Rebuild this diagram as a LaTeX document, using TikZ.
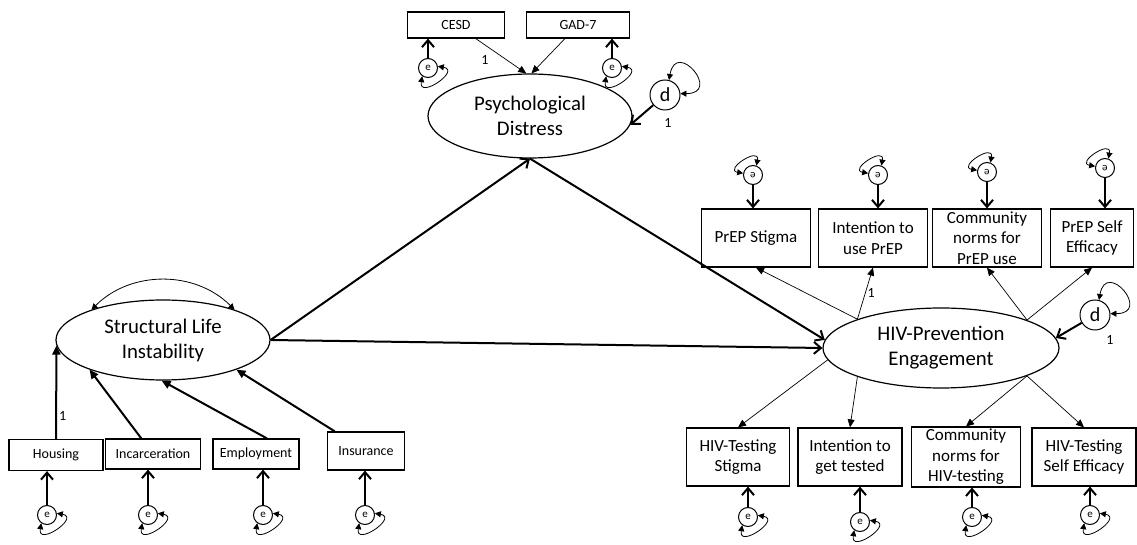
\documentclass[tikz,border=0pt]{standalone}
\usepackage{fontspec}
\setmainfont{Carlito}
\usepackage{graphicx}
\usetikzlibrary{arrows.meta,shapes.geometric}

\tikzset{
  latent/.style={draw,ellipse,line width=0.6pt,align=center,inner sep=0pt,
    font=\fontsize{10.4}{12.5}\selectfont},
  obs/.style={draw,rectangle,line width=0.6pt,align=center,inner sep=1pt,
    font=\fontsize{7}{8.4}\selectfont},
  obsbig/.style={obs,font=\fontsize{8.5}{10.3}\selectfont,minimum height=29pt},
  err/.style={draw,circle,line width=0.5pt,inner sep=0pt,minimum size=9.5pt,
    font=\fontsize{5.5}{6}\selectfont},
  dist/.style={draw,circle,line width=0.5pt,inner sep=0pt,minimum size=15pt,
    font=\fontsize{10}{12}\selectfont},
  lbl/.style={font=\fontsize{7}{8}\selectfont,inner sep=1pt},
  regpath/.style={line width=1pt,-{Straight Barb[length=3.5pt,width=6pt]}},
  errpath/.style={line width=1pt,-{Straight Barb[length=3.5pt,width=6pt]}},
  indpath/.style={line width=1pt,-{Triangle[length=4.5pt,width=4pt]}},
  loadpath/.style={line width=0.35pt,-{Triangle[length=4pt,width=3.5pt]}},
  varpath/.style={line width=0.4pt,{Triangle[length=3pt,width=3pt]}-{Triangle[length=3pt,width=3pt]}},
  lowloop/.style={out=-10,in=-100,looseness=3.3},
  toploop/.style={out=170,in=80,looseness=3.3},
  dloop/.style={out=80,in=0,looseness=6}
}

\begin{document}
\begin{tikzpicture}[x=0.5pt,y=-0.5pt]
  \useasboundingbox (0,0) rectangle (1137,545);

  % Latent variables
  \node[latent,minimum width=102pt,minimum height=42pt] (pd) at (530,116) {Psychological\\Distress};
  \node[latent,minimum width=107pt,minimum height=40pt] (sli) at (163,340) {Structural Life\\Instability};
  \node[latent,minimum width=118pt,minimum height=40pt] (hpe) at (941,348) {HIV-Prevention\\Engagement};

  % Psychological distress indicators
  \node[obs,minimum width=48.5pt,minimum height=13pt] (cesd) at (456,25) {CESD};
  \node[obs,minimum width=51.5pt,minimum height=13pt] (gad) at (578,25) {GAD-7};
  \node[err] (ecesd) at (428,68) {e};
  \node[err] (egad) at (612,68) {e};
  \draw[errpath] (ecesd) -- (ecesd |- cesd.south);
  \draw[errpath] (egad) -- (egad |- gad.south);
  \draw[varpath] (ecesd.10) to[lowloop] (ecesd.235);
  \draw[varpath] (egad.10) to[lowloop] (egad.235);
  \draw[loadpath] (cesd) -- node[lbl,pos=0.3,below left,yshift=-2pt] (lcesd) {1} (pd.95);
  \draw[loadpath] (gad) -- (pd.88);

  % Disturbance of psychological distress
  \node[dist] (dpd) at (665,95) {d};
  \draw[regpath] (dpd) -- (pd.-5);
  \draw[varpath] (dpd.75) to[dloop] (dpd.5);
  \node[lbl] (ldpd) at (668,123) {1};

  % Structural life instability indicators
  \foreach \n/\x/\y/\w/\h/\t/\ex in {
    housing/56/455/47/15.5/Housing/47,
    incarc/153/454/47.5/15/Incarceration/148,
    employ/256/454/43/15/Employment/263,
    insur/366/451/38.5/19/Insurance/365
  } {
    \node[obs,minimum width=\w pt,minimum height=\h pt] (\n) at (\x,\y) {\t};
    \node[err] (e\n) at (\ex,515) {e};
    \draw[errpath] (e\n) -- (e\n |- \n.south);
    \draw[varpath] (e\n.10) to[lowloop] (e\n.235);
  }
  \draw[indpath] (housing) -- node[lbl,pos=0.25,right] (lhousing) {1} (sli.183);
  \draw[indpath] (incarc) -- (sli.202);
  \draw[indpath] (employ.55) -- (sli.268);
  \draw[indpath] (insur) -- (sli.338);
  \draw[varpath] (sli.157) to[bend left=45] (sli.23);

  % Structural paths
  \draw[regpath] (sli.east) -- (pd.south);
  \draw[regpath] (pd.south) -- (hpe.176);
  \draw[regpath] (sli.east) -- (hpe.west);

  % PrEP indicators
  \foreach \n/\x/\w/\t/\ex/\ey in {
    prepstig/756/54.5/PrEP Stigma/753/175,
    prepint/873/54.5/{Intention to\\use PrEP}/878/175,
    prepnorm/987/54.5/{Community\\norms for\\PrEP use}/987/172,
    prepeff/1092/41.5/{PrEP Self\\Efficacy}/1105/168
  } {
    \node[obsbig,minimum width=\w pt] (\n) at (\x,238) {\t};
    \node[err] (e\n) at (\ex,\ey) {\rotatebox[origin=c]{180}{e}};
    \draw[errpath] (e\n) -- (e\n |- \n.north);
    \draw[varpath] (e\n.170) to[toploop] (e\n.70);
  }

  % HIV-testing indicators
  \foreach \n/\x/\w/\t/\ex/\ey in {
    teststig/738/51.5/{HIV-Testing\\Stigma}/748/517,
    testint/850/52/{Intention to\\get tested}/860/522,
    testnorm/966/54.5/{Community\\norms for\\HIV-testing}/972/517,
    testeff/1084/52/{HIV-Testing\\Self Efficacy}/1090/515
  } {
    \node[obsbig,minimum width=\w pt] (\n) at (\x,457) {\t};
    \node[err] (e\n) at (\ex,\ey) {e};
    \draw[errpath] (e\n) -- (e\n |- \n.south);
    \draw[varpath] (e\n.10) to[lowloop] (e\n.235);
  }

  % Loadings of HIV-prevention engagement
  \draw[loadpath] (hpe.161) -- (prepstig.south);
  \draw[loadpath] (hpe.161) -- node[lbl,midway,right] (lprepint) {1} (prepint.south);
  \draw[loadpath] (hpe.18) -- (prepnorm.south);
  \draw[loadpath] (hpe.18) -- (prepeff.south);
  \draw[loadpath] (hpe.186) -- (teststig.north);
  \draw[loadpath] (hpe.199) -- (testint.north);
  \draw[loadpath] (hpe.-18) -- (testnorm.north);
  \draw[loadpath] (hpe.-18) -- (testeff.north);

  % Disturbance of HIV-prevention engagement
  \node[dist] (dhpe) at (1095,315) {d};
  \draw[regpath] (dhpe) -- (hpe.5);
  \draw[varpath] (dhpe.75) to[dloop] (dhpe.5);
  \node[lbl] (ldhpe) at (1110,340) {1};
\end{tikzpicture}
\end{document}
